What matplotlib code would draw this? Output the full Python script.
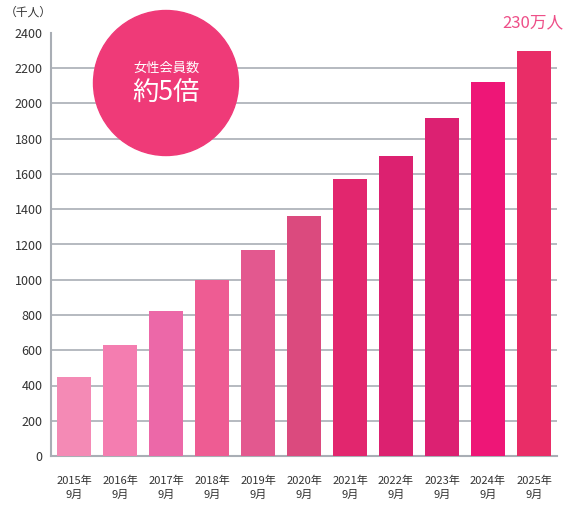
import matplotlib
matplotlib.use("Agg")
import matplotlib.pyplot as plt
from matplotlib.patches import Circle

plt.rcParams['font.family'] = ['Noto Sans CJK JP', 'DejaVu Sans']

years = ["2015年", "2016年", "2017年", "2018年", "2019年", "2020年",
         "2021年", "2022年", "2023年", "2024年", "2025年"]
months = ["9月"] * 11
values = [450, 630, 820, 1000, 1170, 1360, 1570, 1700, 1920, 2120, 2300]
colors = ["#F48AB5", "#F47DB0", "#EC68A8", "#EE5C93", "#E3588F", "#DB4A7E",
          "#E2266E", "#DC2170", "#DC2172", "#EE1677", "#E92D67"]
yticks = [0, 200, 400, 600, 800, 1000, 1200, 1400, 1600, 1800, 2000, 2200, 2400]

W, H = 585, 509
fig = plt.figure(figsize=(W / 100, H / 100), dpi=100)
ax = fig.add_axes([51 / W, 1 - 456 / H, (557 - 51) / W, (456 - 33) / H])

x = list(range(len(values)))
ax.bar(x, values, width=0.74, color=colors, zorder=3)

ax.set_xlim(-0.5, 10.5)
ax.set_ylim(0, 2400)
ax.set_yticks(yticks)
ax.set_yticklabels([str(v) for v in yticks], fontsize=9, color="#333333")
ax.set_xticks(x)
ax.set_xticklabels([f"{a}\n{b}" for a, b in zip(years, months)],
                   fontsize=8, color="#333333", linespacing=1.45)
ax.tick_params(axis='both', length=0)
ax.tick_params(axis='y', pad=6)
ax.tick_params(axis='x', pad=14)

for v in yticks[1:-1]:
    ax.axhline(v, color="#A9AEB5", linewidth=1.2, zorder=0)
for s in ['top', 'right']:
    ax.spines[s].set_visible(False)
ax.spines['left'].set_color("#A9AEB5")
ax.spines['left'].set_linewidth(1.5)
ax.spines['bottom'].set_color("#A9AEB5")
ax.spines['bottom'].set_linewidth(1.5)

# unit label
fig.text(5 / W, 1 - 12 / H, "（千人）", fontsize=8.5, color="#333333",
         ha='left', va='center')

# circle badge
circ = Circle((166 / 100, (H - 83) / 100), 0.725, transform=fig.dpi_scale_trans,
              color="#EF3A78", zorder=10)
fig.patches.append(circ)
fig.text(166 / W, 1 - 68 / H, "女性会員数", fontsize=9.5, color="white",
         ha='center', va='center', zorder=11)
fig.text(166 / W, 1 - 93 / H, "約5倍", fontsize=19, color="white",
         ha='center', va='center', zorder=11)

# top label
fig.text(533 / W, 1 - 23 / H, "230万人", fontsize=12, color="#EE4F88",
         ha='center', va='center')

fig.savefig("out.png", dpi=100)
